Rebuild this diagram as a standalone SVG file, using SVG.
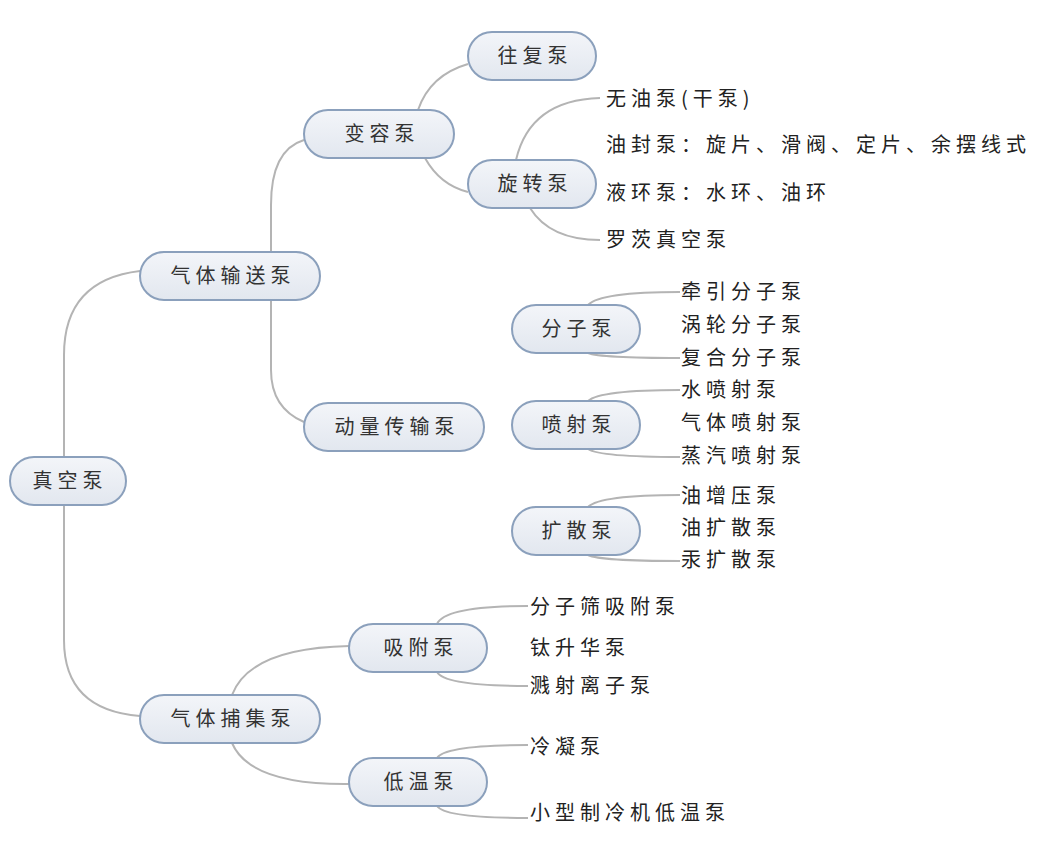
<svg xmlns="http://www.w3.org/2000/svg" width="1063" height="853" viewBox="0 0 1063 853">
<defs>
<linearGradient id="g" x1="0" y1="0" x2="0" y2="1"><stop offset="0" stop-color="#f3f5f9"/><stop offset="1" stop-color="#e2e7ef"/></linearGradient>
<style>
.n rect{fill:url(#g);stroke:#8ba0bc;stroke-width:2}
.n text{font-family:"Noto Sans CJK SC",sans-serif;font-size:20px;fill:#333;text-anchor:middle;letter-spacing:5px}
.t{font-family:"Noto Sans CJK SC",sans-serif;font-size:20px;fill:#222;letter-spacing:5px}
#c path{fill:none;stroke:#b4b4b4;stroke-width:2}
</style>
</defs>
<rect width="1063" height="853" fill="#fff"/>
<g id="c">
<path d="M64,457 V355 Q64,280 140,271"/>
<path d="M64,505 V640 Q64,710 140,716"/>
<path d="M271,252 V205 Q271,150 304,140"/>
<path d="M271,300 V370 Q271,408 304,422"/>
<path d="M418,110 Q430,75 468,64"/>
<path d="M425,158 Q440,185 468,192"/>
<path d="M516,160 Q530,100 600,98"/>
<path d="M530,208 Q550,240 600,240"/>
<path d="M588,305 Q600,292 680,292"/>
<path d="M588,353 Q600,358 680,358"/>
<path d="M588,401 Q600,390 680,390"/>
<path d="M588,449 Q600,457 680,457"/>
<path d="M588,507 Q600,495 680,495"/>
<path d="M588,555 Q600,561 680,561"/>
<path d="M232,695 Q250,648 349,646"/>
<path d="M232,743 Q250,785 349,784"/>
<path d="M437,624 Q445,606 528,606"/>
<path d="M437,672 Q445,686 528,686"/>
<path d="M437,758 Q445,745 528,745"/>
<path d="M437,806 Q445,818 528,818"/>
</g>
<g id="n1" class="n"><rect x="10" y="457" width="116" height="48" rx="24"/><text x="70" y="488">真空泵</text></g>
<g id="n2" class="n"><rect x="140" y="252" width="180" height="48" rx="24"/><text x="233" y="283">气体输送泵</text></g>
<g id="n3" class="n"><rect x="140" y="695" width="180" height="48" rx="24"/><text x="233" y="726">气体捕集泵</text></g>
<g id="n4" class="n"><rect x="304" y="110" width="150" height="48" rx="24"/><text x="382" y="141">变容泵</text></g>
<g id="n5" class="n"><rect x="304" y="403" width="180" height="48" rx="24"/><text x="397" y="434">动量传输泵</text></g>
<g id="n6" class="n"><rect x="468" y="32" width="128" height="48" rx="24"/><text x="535" y="63">往复泵</text></g>
<g id="n7" class="n"><rect x="468" y="160" width="128" height="48" rx="24"/><text x="535" y="191">旋转泵</text></g>
<g id="n8" class="n"><rect x="512" y="305" width="128" height="48" rx="24"/><text x="579" y="336">分子泵</text></g>
<g id="n9" class="n"><rect x="512" y="401" width="128" height="48" rx="24"/><text x="579" y="432">喷射泵</text></g>
<g id="n10" class="n"><rect x="512" y="507" width="128" height="48" rx="24"/><text x="579" y="538">扩散泵</text></g>
<g id="n11" class="n"><rect x="349" y="624" width="138" height="48" rx="24"/><text x="421" y="655">吸附泵</text></g>
<g id="n12" class="n"><rect x="349" y="758" width="138" height="48" rx="24"/><text x="421" y="789">低温泵</text></g>
<g id="labels">
<text class="t" x="606" y="106">无油泵(干泵)</text>
<text class="t" x="606" y="152">油封泵：旋片、滑阀、定片、余摆线式</text>
<text class="t" x="606" y="200">液环泵：水环、油环</text>
<text class="t" x="606" y="247">罗茨真空泵</text>
<text class="t" x="681" y="299">牵引分子泵</text>
<text class="t" x="681" y="332">涡轮分子泵</text>
<text class="t" x="681" y="365">复合分子泵</text>
<text class="t" x="681" y="397">水喷射泵</text>
<text class="t" x="681" y="430">气体喷射泵</text>
<text class="t" x="681" y="463">蒸汽喷射泵</text>
<text class="t" x="681" y="503">油增压泵</text>
<text class="t" x="681" y="535">油扩散泵</text>
<text class="t" x="681" y="567">汞扩散泵</text>
<text class="t" x="530" y="614">分子筛吸附泵</text>
<text class="t" x="530" y="655">钛升华泵</text>
<text class="t" x="530" y="693">溅射离子泵</text>
<text class="t" x="530" y="754">冷凝泵</text>
<text class="t" x="530" y="820">小型制冷机低温泵</text>
</g>
</svg>
